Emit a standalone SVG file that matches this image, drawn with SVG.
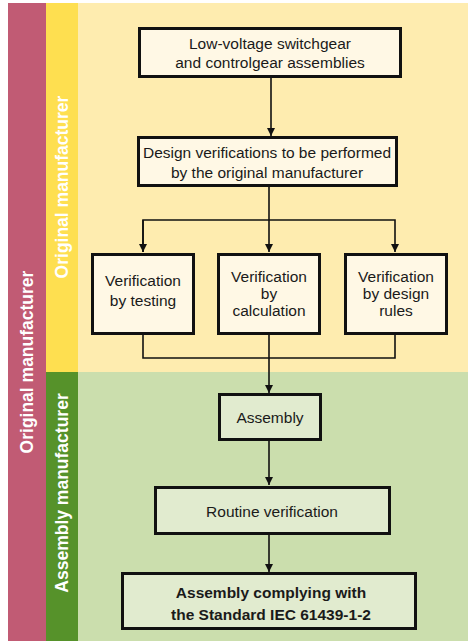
<svg xmlns="http://www.w3.org/2000/svg" width="471" height="642" viewBox="0 0 471 642">
<style>
.box{stroke:#111;stroke-width:3}
.by{fill:#fff8e5}
.bg{fill:#e1ebcf}
.t{font-family:"Liberation Sans",Arial,sans-serif;font-size:15.5px;fill:#1a1a1a;text-anchor:middle}
.b{font-weight:bold}
.side{font-family:"Liberation Sans",Arial,sans-serif;font-size:17.5px;font-weight:bold;fill:#fff;text-anchor:middle}
.c{fill:none;stroke:#111;stroke-width:1.6}
</style>
<defs>
<marker id="ah" viewBox="0 0 10 10" refX="10" refY="5" markerWidth="8" markerHeight="8" markerUnits="userSpaceOnUse" orient="auto">
<path d="M0,0 L10,5 L0,10 z" fill="#111"/>
</marker>
</defs>
<rect width="471" height="642" fill="#fff"/>
<g id="bands">
<rect x="8" y="3" width="38" height="638" fill="#c15b74"/>
<rect x="46" y="3" width="32" height="369" fill="#fedf50"/>
<rect x="46" y="372" width="32" height="269" fill="#56922a"/>
<rect x="78" y="3" width="390" height="369" fill="#feecaf"/>
<rect x="78" y="372" width="390" height="269" fill="#cbdead"/>
<text class="side" transform="translate(33,362) rotate(-90)">Original manufacturer</text>
<text class="side" transform="translate(68,187) rotate(-90)">Original manufacturer</text>
<text class="side" transform="translate(68,493) rotate(-90)">Assembly manufacturer</text>
</g>
<g id="connectors">
<line class="c" x1="271" y1="77" x2="271" y2="136" marker-end="url(#ah)"/>
<line class="c" x1="269" y1="186" x2="269" y2="220"/>
<polyline class="c" points="143,252 143,220 395,220 395,252" marker-end="url(#ah)"/>
<line class="c" x1="143" y1="220" x2="143" y2="252" marker-end="url(#ah)"/>
<line class="c" x1="269" y1="220" x2="269" y2="252" marker-end="url(#ah)"/>
<polyline class="c" points="143,334 143,358 395,358 395,334"/>
<line class="c" x1="269" y1="334" x2="269" y2="393" marker-end="url(#ah)"/>
<line class="c" x1="269" y1="440" x2="269" y2="485" marker-end="url(#ah)"/>
<line class="c" x1="269" y1="534" x2="269" y2="572" marker-end="url(#ah)"/>
</g>
<g id="n1"><rect class="box by" x="139.5" y="28.5" width="261" height="48"/>
<text class="t" x="270" y="49">Low-voltage switchgear</text>
<text class="t" x="270" y="68">and controlgear assemblies</text></g>
<g id="n2"><rect class="box by" x="138.5" y="137.5" width="258" height="48"/>
<text class="t" x="267" y="158">Design verifications to be performed</text>
<text class="t" x="267" y="178">by the original manufacturer</text></g>
<g id="n3"><rect class="box by" x="92.5" y="254.5" width="101" height="79"/>
<text class="t" x="143" y="286">Verification</text>
<text class="t" x="143" y="306">by testing</text></g>
<g id="n4"><rect class="box by" x="218.5" y="254.5" width="101" height="79"/>
<text class="t" x="269" y="282">Verification</text>
<text class="t" x="269" y="299">by</text>
<text class="t" x="269" y="316">calculation</text></g>
<g id="n5"><rect class="box by" x="345.5" y="254.5" width="101" height="79"/>
<text class="t" x="396" y="282">Verification</text>
<text class="t" x="396" y="299">by design</text>
<text class="t" x="396" y="316">rules</text></g>
<g id="n6"><rect class="box bg" x="219.5" y="394.5" width="101" height="45"/>
<text class="t" x="270" y="423">Assembly</text></g>
<g id="n7"><rect class="box bg" x="155.5" y="487.5" width="234" height="46"/>
<text class="t" x="272" y="517">Routine verification</text></g>
<g id="n8"><rect class="box bg" x="122.5" y="573.5" width="293" height="55"/>
<text class="t b" x="271" y="598">Assembly complying with</text>
<text class="t b" x="271" y="620">the Standard IEC 61439-1-2</text></g>
</svg>
